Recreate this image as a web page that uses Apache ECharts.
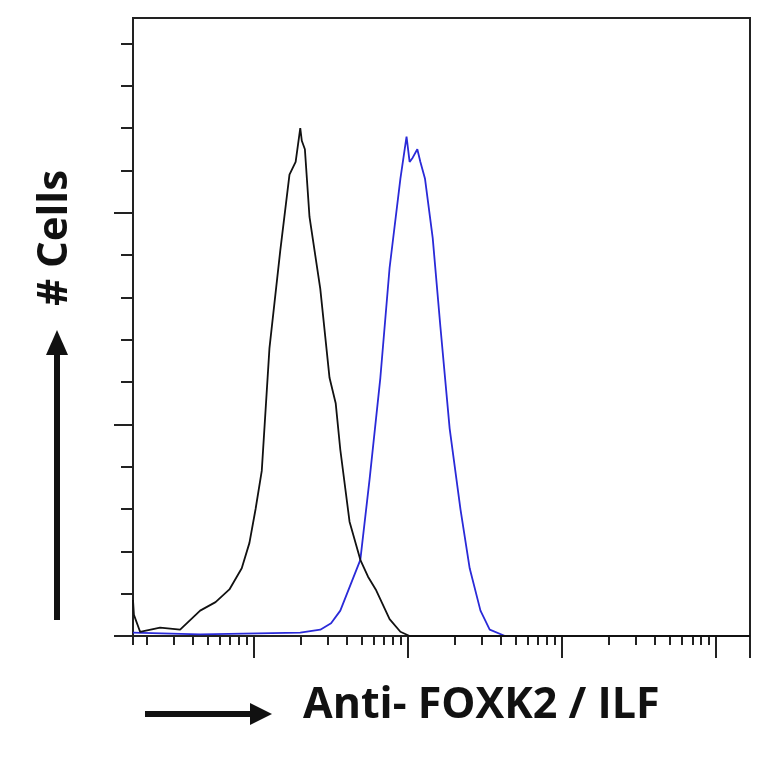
<!DOCTYPE html>
<html>
<head>
<meta charset="utf-8">
<script src="https://cdn.jsdelivr.net/npm/echarts@6/dist/echarts.min.js"></script>
<style>html,body{margin:0;padding:0;background:#fff}#chart{width:764px;height:764px}</style>
</head>
<body>
<div id="chart"></div>
<script>
// x in log10 of fluorescence, y in cell counts
var controlX = [0.214, 0.22, 0.26, 0.39, 0.52, 0.65, 0.75, 0.84, 0.92, 0.97, 1.01, 1.05, 1.10, 1.17, 1.23, 1.27, 1.30, 1.31, 1.33, 1.36, 1.43, 1.49, 1.53, 1.56, 1.62, 1.69, 1.74, 1.79, 1.88, 1.95, 2.01, 4.22];
var controlY = [8.5, 5, 1, 2, 1.5, 6, 8, 11, 16, 22, 30, 39, 68, 91, 109, 112, 120, 117, 115, 99, 82, 61, 55, 44, 27, 18, 14, 11, 4, 1, 0, 0];
var foxX = [0.214, 0.65, 1.30, 1.43, 1.50, 1.56, 1.69, 1.75, 1.82, 1.88, 1.95, 1.99, 2.01, 2.03, 2.06, 2.08, 2.11, 2.16, 2.21, 2.27, 2.34, 2.40, 2.47, 2.53, 2.63, 4.22];
var foxY = [0.8, 0.4, 0.8, 1.5, 3, 6, 18, 37, 61, 87, 108, 118, 112, 113, 115, 112, 108, 94, 73, 49, 30, 16, 6, 1.5, 0, 0];
var yMinorTicks = [0, 10, 20, 30, 40, 60, 70, 80, 90, 110, 120, 130, 140];
var yMajorTicks = [0, 50, 100];

var minorTicks = [];
var majorTicks = [1, 2, 3, 4, 4.22];
for (var d = 0; d < 5; d++) {
    for (var m = 2; m <= 9; m++) {
        var v = d + Math.log10(m);
        if (v > 0.214 && v < 4.22) minorTicks.push(v);
    }
}
minorTicks.push(0.214);

function pairs(xs, ys) {
    return xs.map(function (x, i) { return [x, ys[i]]; });
}

var chart = echarts.init(document.getElementById('chart'));
var tickStyle = { color: '#222', width: 2 };
var option = {
    animation: false,
    grid: { left: 133, top: 18, right: 14, bottom: 128, show: true, borderColor: '#222', borderWidth: 2 },
    xAxis: [
        {
            type: 'value', min: 0.214, max: 4.22,
            axisLine: { onZero: false, lineStyle: tickStyle },
            axisTick: { show: true, length: 9, customValues: minorTicks, lineStyle: tickStyle },
            axisLabel: { show: false }, splitLine: { show: false }
        },
        {
            type: 'value', min: 0.214, max: 4.22, position: 'bottom',
            axisLine: { show: false },
            axisTick: { show: true, length: 22, customValues: majorTicks, lineStyle: tickStyle },
            axisLabel: { show: false }, splitLine: { show: false }
        }
    ],
    yAxis: [
        {
            type: 'value', min: 0, max: 146,
            axisLine: { lineStyle: tickStyle },
            axisTick: { length: 12, customValues: yMinorTicks, lineStyle: tickStyle },
            axisLabel: { show: false }, splitLine: { show: false }
        },
        {
            type: 'value', min: 0, max: 146, position: 'left',
            axisLine: { show: false },
            axisTick: { length: 19, customValues: yMajorTicks, lineStyle: tickStyle },
            axisLabel: { show: false }, splitLine: { show: false }
        }
    ],
    series: [
        {
            type: 'line', name: 'Control', data: pairs(controlX, controlY), showSymbol: false,
            lineStyle: { color: '#111', width: 1.8 }, z: 3
        },
        {
            type: 'line', name: 'FOXK2', data: pairs(foxX, foxY), showSymbol: false,
            lineStyle: { color: '#2a2ad8', width: 1.8 }, z: 2
        }
    ],
    graphic: [
        { type: 'text', left: 303, top: 684, style: { text: 'Anti- FOXK2 / ILF', font: 'bold 43px "Open Sans", sans-serif', fill: '#111' } },
        { type: 'line', shape: { x1: 145, y1: 714, x2: 255, y2: 714 }, style: { stroke: '#111', lineWidth: 6 } },
        { type: 'polygon', shape: { points: [[250, 703], [272, 714], [250, 725]] }, style: { fill: '#111' } },
        { type: 'text', x: 55, y: 238, rotation: Math.PI / 2, style: { text: '# Cells', font: 'bold 42px "Open Sans", sans-serif', fill: '#111', align: 'center', verticalAlign: 'middle' } },
        { type: 'line', shape: { x1: 57, y1: 620, x2: 57, y2: 350 }, style: { stroke: '#111', lineWidth: 6 } },
        { type: 'polygon', shape: { points: [[46, 355], [57, 330], [68, 355]] }, style: { fill: '#111' } }
    ]
};
chart.setOption(option);
</script>
</body>
</html>
